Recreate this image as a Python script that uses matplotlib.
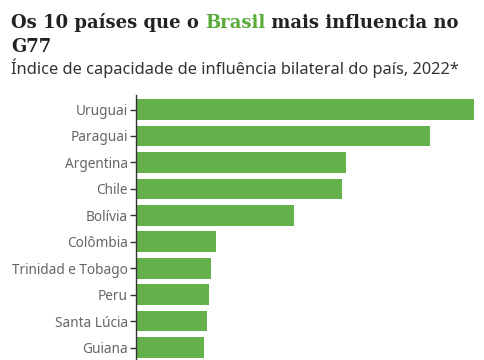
import matplotlib
matplotlib.use("Agg")
import matplotlib.pyplot as plt

countries = ["Uruguai", "Paraguai", "Argentina", "Chile", "Bolívia", "Colômbia",
             "Trinidad e Tobago", "Peru", "Santa Lúcia", "Guiana"]
values = [33.8, 29.4, 21.0, 20.6, 15.8, 8.0, 7.5, 7.3, 7.1, 6.8]

GREEN = "#64b04a"
TITLE_GREEN = "#5aab3c"
DARK = "#222222"
GREY = "#666666"

fig = plt.figure(figsize=(4.85, 3.6), dpi=100)
ax = fig.add_axes([136 / 485, 0, (474 - 136) / 485, (360 - 95) / 360])

pos = list(range(len(countries)))
ax.barh(pos, values, height=0.78, color=GREEN)
ax.set_xlim(0, max(values))
ax.set_ylim(9.47, -0.55)
ax.set_yticks(pos)
ax.set_yticklabels(countries, fontsize=9.8, color=GREY, family="Noto Sans")
ax.tick_params(axis="y", length=4, width=1, color="#333333", pad=2)
ax.set_xticks([])
for s in ["top", "right", "bottom"]:
    ax.spines[s].set_visible(False)
ax.spines["left"].set_color("#333333")
ax.spines["left"].set_linewidth(1)

# title with a green word
renderer = fig.canvas.get_renderer()
tkw = dict(fontsize=13, fontweight="bold", family="DejaVu Serif", va="baseline")
x = 11 / 485
y1 = 1 - 28 / 360
for part, col in [("Os 10 países que o ", DARK), ("Brasil", TITLE_GREEN),
                  (" mais influencia no", DARK)]:
    t = fig.text(x, y1, part, color=col, **tkw)
    bb = t.get_window_extent(renderer=renderer)
    x += bb.width / fig.bbox.width
fig.text(11 / 485, 1 - 52 / 360, "G77", color=DARK, **tkw)
fig.text(11 / 485, 1 - 74 / 360,
         "Índice de capacidade de influência bilateral do país, 2022*",
         fontsize=11.8, color="#333333", family="Noto Sans", va="baseline")

fig.savefig("out.png", dpi=100)
